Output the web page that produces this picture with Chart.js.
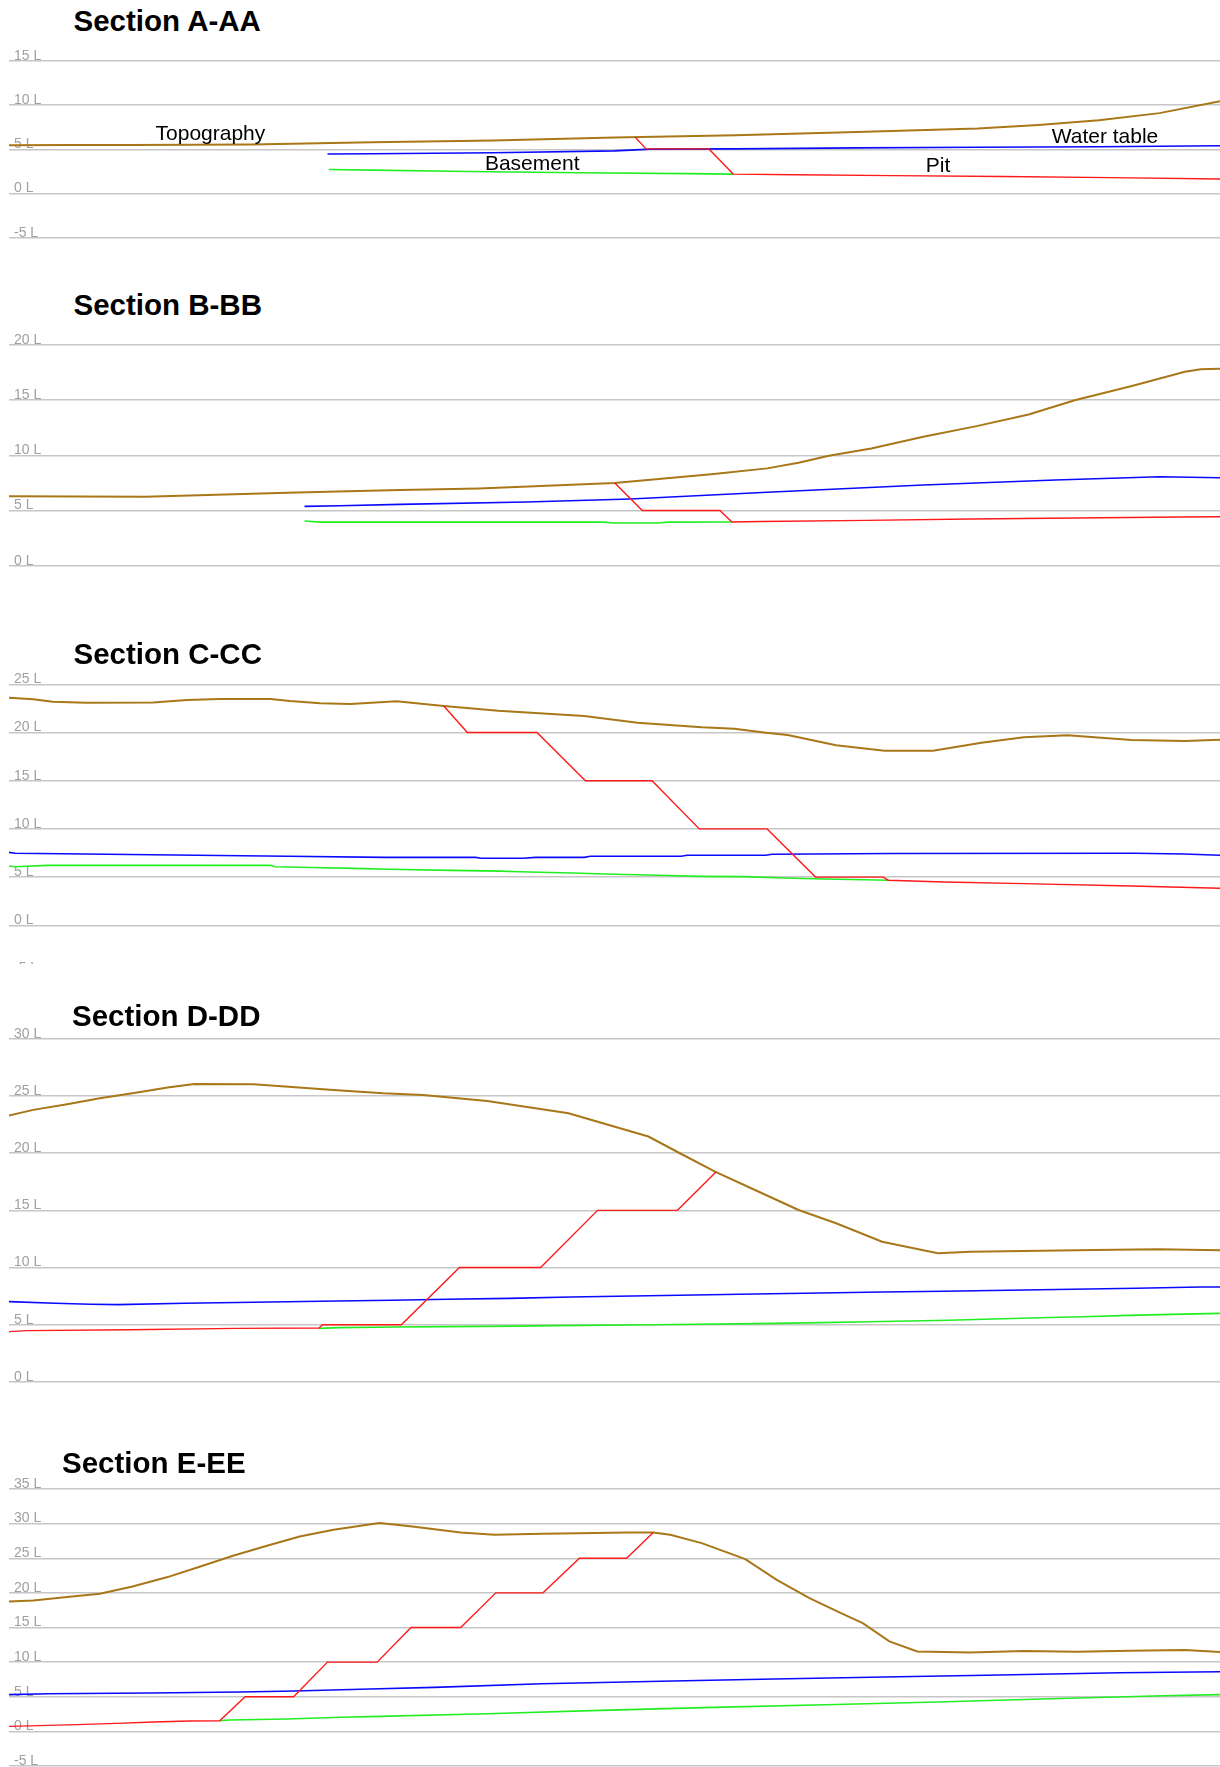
<!DOCTYPE html>
<html>
<head>
<meta charset="utf-8">
<title>Cross sections</title>
<script src="https://cdn.jsdelivr.net/npm/chart.js@4.4.1/dist/chart.umd.min.js"></script>
<style>
  html, body { margin: 0; padding: 0; background: #fff; width: 1220px; height: 1767px; overflow: hidden; }
  .title { position: absolute; font: bold 29.5px "Liberation Sans", Arial, sans-serif; line-height: 30px; color: #000; white-space: nowrap; z-index: 2; }
  .box { position: absolute; left: 0; width: 1220px; overflow: hidden; }
  canvas { display: block; }
</style>
</head>
<body>
<script>
// Chainage runs 0..100 along each section; levels are in L.
// Each series is a list of [chainage, level] pairs.

// ---- Section A-AA ----
const levelsA = [-5, 0, 5, 10, 15];
const topoA  = [[0,5.45],[5,5.5],[10,5.5],[20,5.55],[30,5.8],[40,6.0],[50,6.35],[60,6.6],[70,6.95],[80,7.35],[85,7.75],[90,8.3],[95,9.1],[100,10.45]];
const waterA = [[26.3,4.48],[30,4.5],[40,4.62],[50,4.83],[53,5.02],[60,5.05],[70,5.17],[80,5.24],[90,5.3],[100,5.4]];
const baseA  = [[26.4,2.72],[30,2.65],[38,2.5],[47,2.35],[56,2.25],[59.8,2.2]];
const pitA   = [[51.7,6.4],[52.6,5.05],[57.8,5.05],[59.8,2.2],[65,2.12],[73,2.03],[82,1.92],[91,1.8],[100,1.65]];
// layer names: [text, chainage, level]
const namesA = [["Topography",12.1,6.11],["Basement",39.3,2.71],["Water table",86.1,5.74],["Pit",75.7,2.41]];

// ---- Section B-BB ----
const levelsB = [0, 5, 10, 15, 20];
const topoB  = [[0,6.3],[11.2,6.25],[16.4,6.4],[23,6.6],[28,6.75],[32.3,6.85],[38.8,7.0],[50,7.5],[58.2,8.3],[62.6,8.82],[65.2,9.33],[67.7,9.96],[71.2,10.63],[75.5,11.69],[79.9,12.65],[84.2,13.7],[88,15.0],[92.8,16.3],[97.1,17.57],[98.4,17.8],[100,17.85]];
const waterB = [[24.4,5.38],[27.3,5.43],[32.3,5.56],[42.7,5.77],[51.3,6.04],[62.6,6.65],[75.5,7.31],[86.4,7.76],[95,8.06],[100,7.97]];
const baseB  = [[24.4,4.05],[25.7,3.95],[49,3.95],[50,3.87],[53.5,3.87],[54.5,3.95],[59.7,3.96]];
const pitB   = [[50,7.52],[52.3,5.0],[58.7,5.0],[59.7,3.96],[62.1,4.0],[70.8,4.11],[79.4,4.23],[88.1,4.32],[96.7,4.41],[100,4.43]];

// ---- Section C-CC ----
const levelsC = [-5, 0, 5, 10, 15, 20, 25];
const topoC  = [[0,23.6],[2,23.44],[3.6,23.2],[6.4,23.09],[11.9,23.1],[14.7,23.37],[17.4,23.47],[21.6,23.47],[23.2,23.27],[25.7,23.03],[28.2,22.96],[32,23.23],[35.9,22.75],[40.4,22.26],[47.5,21.71],[51.9,21.02],[57.2,20.54],[59.9,20.39],[62.5,19.98],[64.3,19.74],[68.3,18.67],[72.3,18.11],[76.3,18.11],[80.3,18.94],[83.8,19.5],[87.4,19.71],[92.7,19.22],[97.1,19.12],[100,19.25]];
const waterC = [[0,7.57],[0.5,7.47],[8.1,7.37],[15.5,7.26],[23,7.16],[31,7.05],[38.5,7.05],[39,6.95],[42.5,6.95],[43.5,7.05],[47.5,7.05],[48,7.16],[55.5,7.16],[56,7.26],[62.5,7.26],[63,7.37],[72.9,7.45],[93,7.47],[97,7.4],[100,7.26]];
const baseC  = [[0,6.15],[0.5,6.08],[3.2,6.22],[21.6,6.22],[22,6.08],[25,6.0],[28.5,5.91],[31.4,5.81],[36.5,5.7],[40.5,5.62],[43,5.53],[46.5,5.43],[50,5.3],[53.6,5.19],[57,5.08],[60.5,5.05],[64,4.9],[67.3,4.8],[70.6,4.72],[72.6,4.68]];
const pitC   = [[35.9,22.75],[37.85,20],[43.6,20],[47.6,15],[53.1,15],[57,10],[62.6,10],[66.6,5],[72.2,5],[72.6,4.68],[77.2,4.49],[83.8,4.32],[92.7,4.08],[100,3.84]];

// ---- Section D-DD ----
const levelsD = [0, 5, 10, 15, 20, 25, 30];
const topoD  = [[0,23.28],[2,23.78],[4.8,24.27],[7.5,24.8],[10.2,25.23],[13.1,25.73],[15.3,26.05],[20.2,26.02],[26.8,25.52],[30.9,25.23],[34.2,25.09],[39.5,24.56],[46.2,23.48],[52.8,21.45],[55.4,19.99],[58.3,18.38],[61.6,16.78],[65.2,15.03],[68.3,13.87],[72.1,12.26],[76.7,11.25],[79.4,11.39],[89.6,11.54],[94.9,11.6],[100,11.51]];
const waterD = [[0,7.02],[3.8,6.88],[6.7,6.79],[9,6.76],[14.5,6.88],[20.2,6.97],[25.7,7.05],[31.6,7.14],[36.2,7.23],[41.3,7.31],[46.4,7.43],[51.5,7.52],[56.6,7.6],[61.6,7.69],[67,7.78],[72.1,7.87],[77.2,7.93],[82.5,8.02],[87.8,8.1],[93.1,8.19],[98.4,8.3],[100,8.3]];
const baseD  = [[25.6,4.69],[27.3,4.75],[31.9,4.8],[36,4.84],[41.6,4.88],[45.3,4.93],[53.2,5.0],[61.8,5.1],[67,5.19],[71,5.27],[77.6,5.39],[81.3,5.5],[85.1,5.62],[88.7,5.7],[92.4,5.82],[96,5.91],[100,6.0]];
const pitD   = [[0,4.4],[1.5,4.49],[10,4.57],[18.8,4.69],[25.6,4.72],[25.9,5.0],[32.4,5.0],[37.2,10],[43.9,10],[48.6,15],[55.2,15],[58.4,18.38]];

// ---- Section E-EE ----
const levelsE = [-5, 0, 5, 10, 15, 20, 25, 30, 35];
const topoE  = [[0,18.76],[2,18.9],[4.8,19.39],[7.5,19.87],[10.2,20.92],[13.1,22.28],[15.8,23.81],[18.5,25.35],[21.3,26.8],[24,28.14],[26.8,29.1],[29.6,29.83],[30.6,30.1],[33.3,29.58],[37.3,28.72],[40.1,28.38],[44,28.53],[47,28.62],[51,28.72],[53.2,28.72],[54.6,28.38],[57.2,27.18],[60.8,24.87],[63.4,21.89],[66.1,19.25],[68.7,17.08],[70.5,15.64],[72.7,13.0],[75,11.54],[79.4,11.4],[83.8,11.6],[88.2,11.5],[92.6,11.64],[97.1,11.74],[100,11.45]];
const waterE = [[0,5.3],[3.2,5.44],[11.6,5.54],[19.1,5.69],[23.6,5.83],[29.8,6.12],[35.1,6.35],[44,6.88],[54.8,7.27],[63.2,7.56],[72.3,7.85],[81.8,8.14],[91.7,8.47],[100,8.61]];
const baseE  = [[17.4,1.54],[18.2,1.64],[22.9,1.79],[27.5,2.03],[30.6,2.17],[39.5,2.55],[48.8,3.03],[58.1,3.46],[67.4,3.85],[76.7,4.24],[86,4.72],[95.3,5.15],[100,5.3]];
const pitE   = [[0,0.72],[5.6,0.97],[8.9,1.15],[11.9,1.35],[14.9,1.5],[17.4,1.54],[19.5,5],[23.5,5],[26.3,10],[30.4,10],[33.2,15],[37.3,15],[40.2,20],[44.1,20],[47.1,25],[51,25],[53.2,28.72]];

// ---- page layout (pixels) ----
const panels = [
  { title: "Section A-AA", tx: 73.5, ty: 6,     top: 41,   h: 207, clip: 207, pad: [20, 10.3],   levels: levelsA, topo: topoA, water: waterA, base: baseA, pit: pitA, names: namesA },
  { title: "Section B-BB", tx: 73.5, ty: 290,   top: 325,  h: 251, clip: 251, pad: [20, 10.3],   levels: levelsB, topo: topoB, water: waterB, base: baseB, pit: pitB },
  { title: "Section C-CC", tx: 73.5, ty: 638.5, top: 664,  h: 320, clip: 300, pad: [20.3, 10.5], levels: levelsC, topo: topoC, water: waterC, base: baseC, pit: pitC },
  { title: "Section D-DD", tx: 72,   ty: 1000.5,top: 1018, h: 374, clip: 374, pad: [20.7, 10],   levels: levelsD, topo: topoD, water: waterD, base: baseD, pit: pitD },
  { title: "Section E-EE", tx: 62,   ty: 1448,  top: 1469, h: 308, clip: 308, pad: [20, 11],     levels: levelsE, topo: topoE, water: waterE, base: baseE, pit: pitE }
];

const toPoints = (pairs) => pairs.map(([x, y]) => ({ x, y }));

// draws the layer names at chainage/level positions
function layerNames(items) {
  return {
    id: 'layerNames',
    afterDatasetsDraw(chart) {
      if (!items) return;
      const { ctx, scales: { x, y } } = chart;
      ctx.save();
      ctx.font = '21px "Liberation Sans", Arial, sans-serif';
      ctx.fillStyle = '#000';
      ctx.textAlign = 'left';
      ctx.textBaseline = 'alphabetic';
      for (const [text, cx, cy] of items) {
        ctx.fillText(text, x.getPixelForValue(cx), y.getPixelForValue(cy));
      }
      ctx.restore();
    }
  };
}

function line(label, pairs, color, width) {
  return {
    label, data: toPoints(pairs), borderColor: color, backgroundColor: color,
    borderWidth: width, pointRadius: 0, tension: 0, fill: false, spanGaps: false
  };
}

for (const p of panels) {
  const box = document.createElement('div');
  box.className = 'box';
  box.style.top = p.top + 'px';
  box.style.height = p.clip + 'px';
  const cv = document.createElement('canvas');
  cv.width = 1220;
  cv.height = p.h;
  box.appendChild(cv);
  document.body.appendChild(box);

  const t = document.createElement('div');
  t.className = 'title';
  t.style.left = p.tx + 'px';
  t.style.top = p.ty + 'px';
  t.textContent = p.title;
  document.body.appendChild(t);

  new Chart(cv, {
    type: 'line',
    data: {
      datasets: [
        line('Pit', p.pit, '#ff1a1a', 1.4),
        line('Topography', p.topo, '#a87718', 2),
        line('Water table', p.water, '#0a0aff', 1.6),
        line('Basement', p.base, '#22ee22', 1.6)
      ]
    },
    options: {
      responsive: false,
      animation: false,
      events: [],
      layout: { padding: { top: p.pad[0], bottom: p.pad[1], left: 0, right: 0 } },
      plugins: { legend: { display: false }, tooltip: { enabled: false }, title: { display: false } },
      scales: {
        x: { type: 'linear', min: 0, max: 100, display: false },
        y: {
          type: 'linear',
          min: p.levels[0],
          max: p.levels[p.levels.length - 1],
          // labels sit inside the plot, so the axis keeps a thin fixed strip
          afterFit: (s) => { s.width = 9; s.paddingTop = 0; s.paddingBottom = 0; },
          border: { display: false },
          grid: { color: '#c6c6c6', lineWidth: 1.5, drawTicks: false },
          ticks: {
            stepSize: 5,
            mirror: true,
            padding: 5,
            labelOffset: -5,
            color: '#a0a0a0',
            font: { family: '"Liberation Sans", Arial, sans-serif', size: 14 },
            callback: (v) => v + ' L'
          }
        }
      }
    },
    plugins: [layerNames(p.names)]
  });
}
</script>
</body>
</html>
